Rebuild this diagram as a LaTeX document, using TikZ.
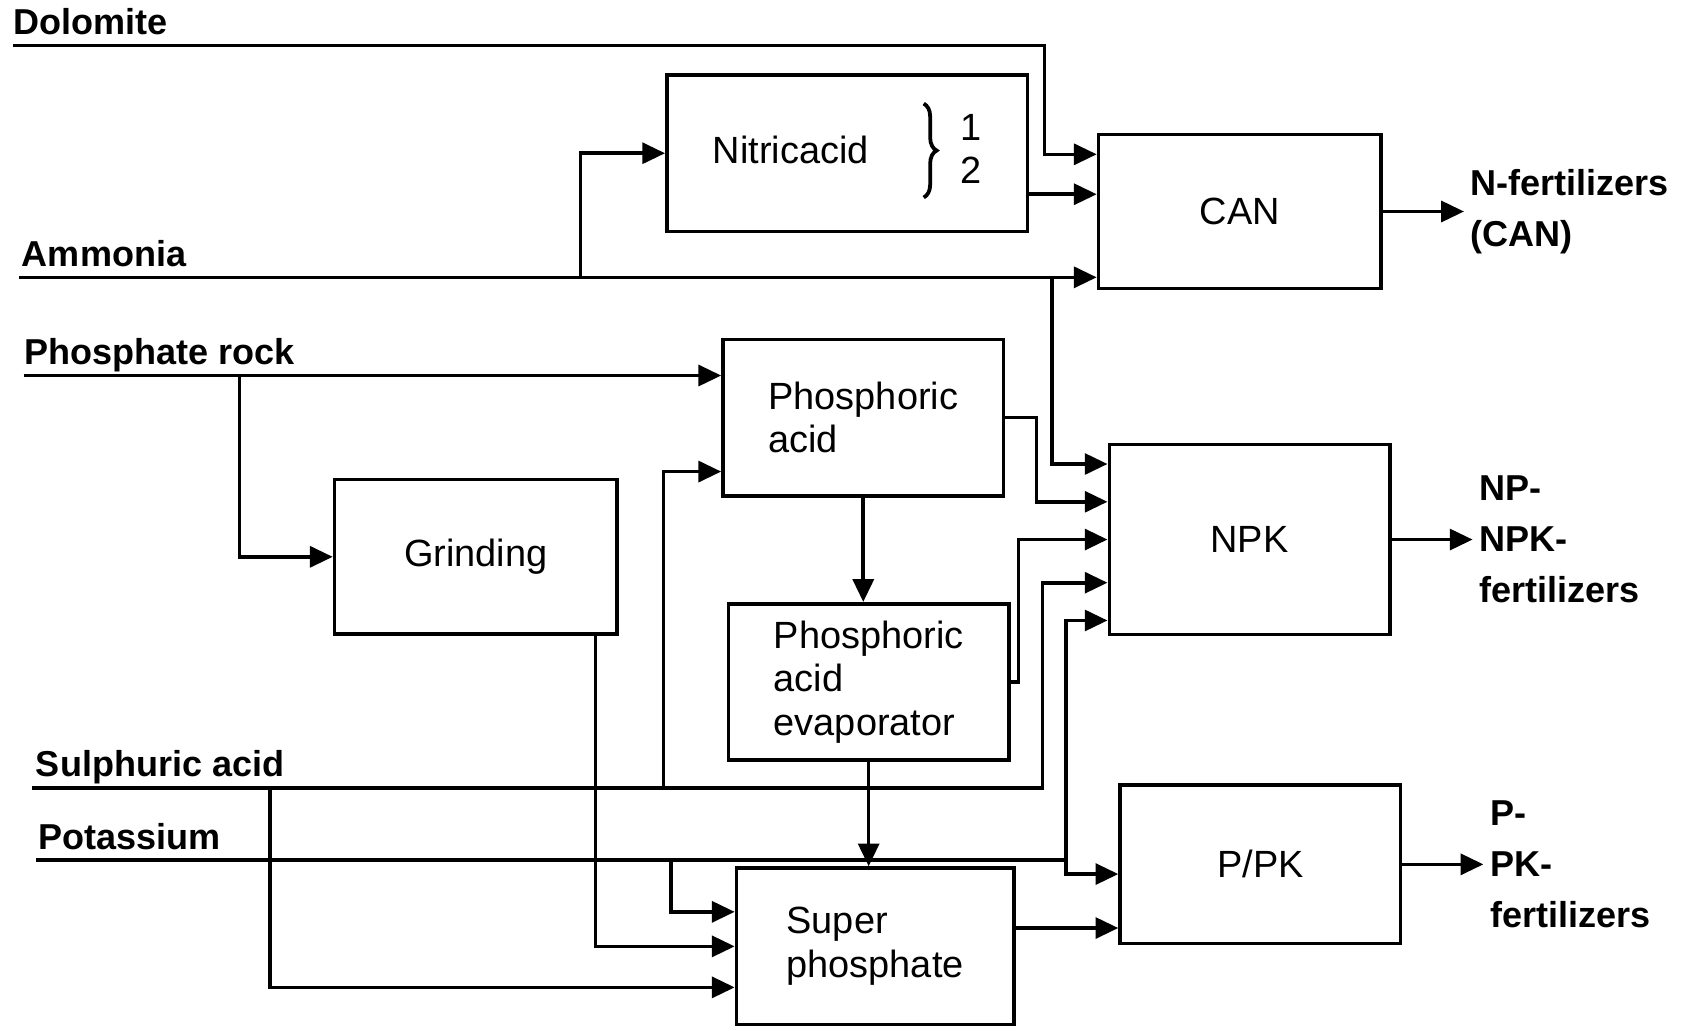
\documentclass[tikz,border=0pt]{standalone}
\usepackage{fontspec}
\setmainfont{Liberation Sans}
\usetikzlibrary{arrows.meta,positioning,decorations.pathreplacing}

\begin{document}
\begin{tikzpicture}[
  x=0.2mm, y=-0.2mm,
  node distance=1.5cm,
  unit/.style={draw, line width=1.9pt, align=left, minimum width=5.2cm, minimum height=2.9cm, font=\fontsize{20}{23}\selectfont},
  feed/.style={anchor=base west, inner sep=0pt, font=\bfseries\fontsize{19}{22}\selectfont},
  product/.style={align=left, font=\bfseries\fontsize{19}{27}\selectfont},
  arrow/.style={-{Triangle[length=12pt,width=11pt]}, line width=1.9pt}
]
\useasboundingbox (0,0) rectangle (1568,955);

% process units
\node[unit, minimum width=6.68cm] (nitric) at (785,142)
  {Nitricacid\hspace{17mm}\begin{tabular}{@{}c@{}}1\\2\end{tabular}};
\node[unit, minimum width=5.24cm, minimum height=2.86cm] (can) at (1149,196) {CAN};
\node[unit] (phos) at (800,387) {Phosphoric\\acid};
\node[unit, minimum width=5.24cm, minimum height=2.86cm] (grind) at (441,516) {Grinding};
\node[unit, minimum height=3.52cm] (npk) at (1158,500) {NPK};
\node[unit] (evap) at (805,632) {Phosphoric\\acid\\evaporator};
\node[unit, minimum width=5.14cm] (super) at (811,877) {Super\\phosphate};
\node[unit, minimum height=2.94cm] (ppk) at (1168,801) {P/PK};

% brace inside the nitric acid unit
\draw[decorate, decoration={brace, amplitude=2.4mm}, line width=2pt]
  ([xshift=14.2mm, yshift=9.2mm]nitric.center) -- ([xshift=14.2mm, yshift=-8.2mm]nitric.center);

% products
\node[product, right=of can] (clab) {N-fertilizers\\(CAN)};
\node[product, right=of npk] (nlab) {NP-\\NPK-\\fertilizers};
\node[product, right=of ppk] (plab) {P-\\PK-\\fertilizers};

% raw materials
\coordinate (dolo) at (12,42);
\coordinate (amm) at (18,257);
\coordinate (rock) at (22,348);
\coordinate (sulph) at (30,730);
\coordinate (pot) at (33,797);
\node[feed] (doloL) at (12,32) {Dolomite};
\node[feed] (ammL) at (20,247) {Ammonia};
\node[feed] (rockL) at (22,338) {Phosphate rock};
\node[feed] (sulphL) at (33,720) {Sulphuric acid};
\node[feed] (potL) at (35,787) {Potassium};

% branch points
\coordinate (amm1) at (538,257);
\coordinate (amm2) at (975,257);
\coordinate (rock1) at (222,348);
\coordinate (sulph1) at (250,730);
\coordinate (sulph2) at (615,730);
\coordinate (sulph3) at (966,730);
\coordinate (pot1) at (622,797);
\coordinate (pot2) at (988,797);

\draw[arrow] (dolo) -- (968,42) |- ([yshift=10.6mm]can.west);
\draw[arrow] (amm) -- (amm -| can.west);
\draw[arrow] (amm1) |- (nitric.west);
\draw[arrow] (amm2) |- ([yshift=14mm]npk.west);
\draw[arrow] ([yshift=-7.6mm]nitric.east) -- ([yshift=-7.6mm]nitric.east -| can.west);
\draw[arrow] (rock) -- (rock -| phos.west);
\draw[arrow] (rock1) |- (grind.west);
\draw[arrow] (phos.east) -- ++(29,0) |- ([yshift=7mm]npk.west);
\draw[arrow] (phos.south) -- (phos.south |- evap.north);
\draw[arrow] (evap.east) -- ++(7,0) |- (npk.west);
\draw[arrow] (sulph) -- (sulph3) |- ([yshift=-8mm]npk.west);
\draw[arrow] (sulph2) |- ([yshift=-10mm]phos.west);
\draw[arrow] (sulph1) |- ([yshift=-7.6mm]super.west);
\draw[arrow] (pot) -- (pot2) |- ([yshift=-15mm]npk.west);
\draw[arrow] (pot2) |- ([yshift=-1.8mm]ppk.west);
\draw[arrow] (pot1) |- ([yshift=6.4mm]super.west);
\draw[arrow] ([xshift=22.2mm]grind.south) |- (super.west);
\draw[arrow] (evap.south) -- (evap.south |- super.north);
\draw[arrow] ([yshift=3.4mm]super.east) -- ([yshift=3.4mm]super.east -| ppk.west);
\foreach \u/\v in {can/clab, npk/nlab, ppk/plab}
  \draw[arrow] (\u) -- (\v);
\end{tikzpicture}
\end{document}
